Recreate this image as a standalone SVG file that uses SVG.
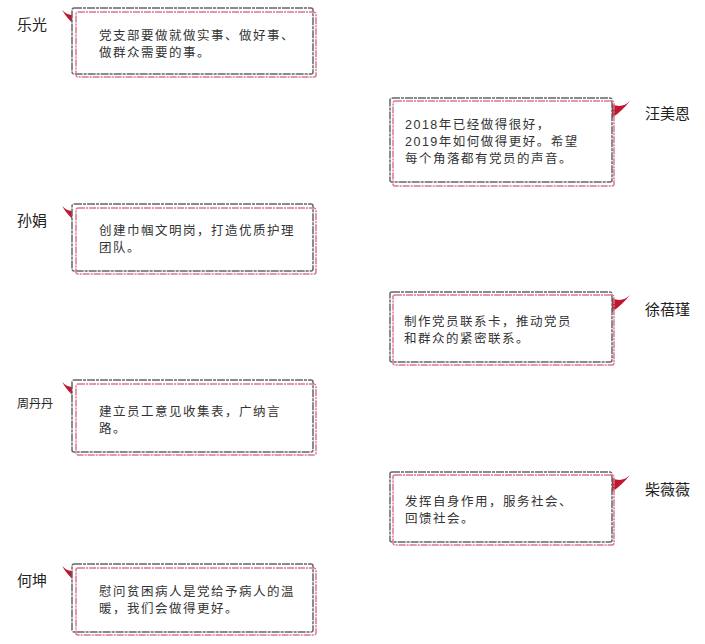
<svg xmlns="http://www.w3.org/2000/svg" width="705" height="644" viewBox="0 0 705 644">
<style>
.g{fill:#fff;stroke:#666;stroke-width:1.5;stroke-dasharray:8 1 3 1}
.p{fill:none;stroke:#d9788f;stroke-width:1.5;stroke-dasharray:7 1 2 1}
.f{fill:#c0162f}
.t{font-family:"Liberation Sans","Noto Sans CJK SC",sans-serif;font-size:12.5px;letter-spacing:1.5px;fill:#333}
.n{font-family:"Liberation Sans","Noto Sans CJK SC",sans-serif;font-size:15px;fill:#222}
</style>
<rect width="705" height="644" fill="#fff"/>
<g id="n1"><text class="n" x="17" y="30">乐光</text><path class="f" d="M62 10 Q70 18 77 13 L77 27 Q68 20 62 10Z"/><rect class="g" x="72" y="8" width="241" height="66" rx="2"/><rect class="p" x="76" y="12" width="240" height="65" rx="2"/><text class="t" x="99" y="40">党支部要做就做实事、做好事、</text><text class="t" x="99" y="57">做群众需要的事。</text></g>
<g id="n2"><text class="n" x="645" y="119">汪美恩</text><path class="f" d="M630 101 Q622 109 612 104 L612 118 Q622 111 630 101Z"/><rect class="g" x="390" y="98" width="222" height="84" rx="2"/><rect class="p" x="393" y="101" width="221" height="85" rx="2"/><text class="t" x="405" y="129">2018年已经做得很好，</text><text class="t" x="405" y="146">2019年如何做得更好。希望</text><text class="t" x="405" y="163">每个角落都有党员的声音。</text></g>
<g id="n3"><text class="n" x="17" y="226">孙娟</text><path class="f" d="M62 206 Q70 214 77 209 L77 223 Q68 216 62 206Z"/><rect class="g" x="72" y="204" width="241" height="67" rx="2"/><rect class="p" x="76" y="208" width="240" height="66" rx="2"/><text class="t" x="99" y="235">创建巾帼文明岗，打造优质护理</text><text class="t" x="99" y="252">团队。</text></g>
<g id="n4"><text class="n" x="645" y="315">徐蓓瑾</text><path class="f" d="M630 295 Q622 303 612 298 L612 312 Q622 305 630 295Z"/><rect class="g" x="390" y="292" width="222" height="70" rx="2"/><rect class="p" x="393" y="295" width="221" height="70" rx="2"/><text class="t" x="404" y="326">制作党员联系卡，推动党员</text><text class="t" x="404" y="343">和群众的紧密联系。</text></g>
<g id="n5"><text class="n" x="17" y="408" style="font-size:12px">周丹丹</text><path class="f" d="M62 382 Q70 390 77 385 L77 399 Q68 392 62 382Z"/><rect class="g" x="72" y="380" width="241" height="72" rx="2"/><rect class="p" x="76" y="384" width="240" height="71" rx="2"/><text class="t" x="99" y="416">建立员工意见收集表，广纳言</text><text class="t" x="99" y="433">路。</text></g>
<g id="n6"><text class="n" x="645" y="495">柴薇薇</text><path class="f" d="M630 475 Q622 483 612 478 L612 492 Q622 485 630 475Z"/><rect class="g" x="390" y="472" width="222" height="70" rx="2"/><rect class="p" x="393" y="475" width="221" height="70" rx="2"/><text class="t" x="405" y="506">发挥自身作用，服务社会、</text><text class="t" x="405" y="523">回馈社会。</text></g>
<g id="n7"><text class="n" x="17" y="586">何坤</text><path class="f" d="M62 566 Q70 574 77 569 L77 583 Q68 576 62 566Z"/><rect class="g" x="72" y="564" width="241" height="68" rx="2"/><rect class="p" x="76" y="568" width="240" height="67" rx="2"/><text class="t" x="99" y="596">慰问贫困病人是党给予病人的温</text><text class="t" x="99" y="613">暖，我们会做得更好。</text></g>
<g id="connectors"/>
</svg>
